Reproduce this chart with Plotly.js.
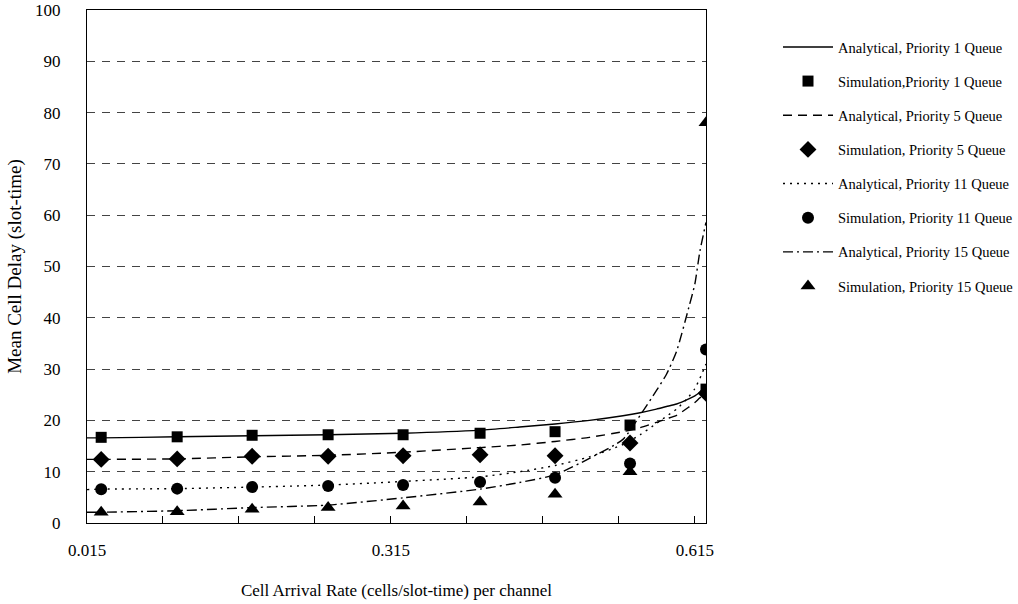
<!DOCTYPE html>
<html><head><meta charset="utf-8">
<script src="https://cdn.plot.ly/plotly-3.0.1.min.js"></script>
<style>html,body{margin:0;padding:0;background:#fff}#chart{width:1018px;height:604px}</style>
</head><body><div id="chart"></div><script>
// Analytical curves
const xAnalytical = [0.015, 0.029, 0.104, 0.178, 0.253, 0.327, 0.403, 0.442, 0.477, 0.511, 0.544, 0.561, 0.577, 0.587, 0.597, 0.609, 0.615, 0.620, 0.626];
const analyticalP1  = [16.6, 16.6, 16.8, 17.0, 17.2, 17.5, 18.1, 18.7, 19.3, 20.0, 20.9, 21.5, 22.2, 22.7, 23.2, 24.2, 24.8, 25.5, 26.4];
const analyticalP5  = [12.4, 12.4, 12.5, 12.9, 13.2, 13.8, 14.7, 15.2, 15.9, 16.7, 17.8, 18.6, 19.6, 20.3, 21.0, 22.6, 23.5, 24.4, 25.3];
const analyticalP11 = [6.5, 6.6, 6.7, 7.0, 7.4, 8.1, 9.0, 10.0, 11.2, 12.9, 15.3, 17.2, 19.4, 20.8, 22.2, 24.6, 26.2, 28.2, 31.0];
const analyticalP15 = [2.1, 2.1, 2.4, 3.0, 3.5, 4.9, 6.6, 7.9, 9.4, 12.6, 16.3, 21.0, 25.8, 29.0, 33.5, 42.0, 46.6, 53.0, 58.6];

// Simulation points
const xSimulation = [0.029, 0.104, 0.178, 0.253, 0.327, 0.403, 0.477, 0.551, 0.626];
const simulationP1  = [16.7, 16.8, 17.1, 17.2, 17.2, 17.5, 17.8, 19.1, 26.1];
const simulationP5  = [12.4, 12.5, 13.0, 13.0, 13.1, 13.3, 13.1, 15.6, 25.3];
const simulationP11 = [6.6, 6.7, 7.0, 7.2, 7.4, 8.0, 8.8, 11.6, 33.8];
const simulationP15 = [2.1, 2.2, 2.7, 3.0, 3.3, 4.1, 5.6, 10.0, 78.0];

// Axis ticks
const xTickVals = [0.015, 0.09, 0.165, 0.24, 0.315, 0.39, 0.465, 0.54, 0.615];
const xTickText = ['0.015', '', '', '', '0.315', '', '', '', '0.615'];
const yTickVals = [0, 10, 20, 30, 40, 50, 60, 70, 80, 90, 100];

const names = [
  'Analytical, Priority 1 Queue',
  'Simulation,Priority 1 Queue',
  'Analytical, Priority 5 Queue',
  'Simulation, Priority 5 Queue',
  'Analytical, Priority 11 Queue',
  'Simulation, Priority 11 Queue',
  'Analytical, Priority 15 Queue',
  'Simulation, Priority 15 Queue'
];

const FONT = 'Liberation Serif, Times New Roman, serif';
function lineTrace(y, name, dash, g) {
  return {x: xAnalytical, y: y, name: name, type: 'scatter', mode: 'lines', legendgroup: g,
    line: {color: '#000', width: 1.4, dash: dash, shape: 'spline', smoothing: 0.6}};
}
function markTrace(y, name, symbol, size, g) {
  return {x: xSimulation, y: y, name: name, type: 'scatter', mode: 'markers', legendgroup: g,
    marker: {color: '#000', symbol: symbol, size: size, line: {width: 0}}};
}
const data = [
  lineTrace(analyticalP1, names[0], 'solid', 'g1'),
  markTrace(simulationP1, names[1], 'square', 11, 'g2'),
  lineTrace(analyticalP5, names[2], '9px,6px', 'g3'),
  markTrace(simulationP5, names[3], 'diamond', 13, 'g4'),
  lineTrace(analyticalP11, names[4], '2px,5px', 'g5'),
  markTrace(simulationP11, names[5], 'circle', 12, 'g6'),
  lineTrace(analyticalP15, names[6], '10px,4px,2px,4px', 'g7'),
  markTrace(simulationP15, names[7], 'triangle-up', 13, 'g8')
];

const layout = {
  width: 1018, height: 604,
  margin: {l: 87, r: 312, t: 10, b: 81},
  paper_bgcolor: '#fff', plot_bgcolor: '#fff',
  font: {family: FONT, color: '#000'},
  showlegend: true,
  legend: {xref: 'container', yref: 'container', x: 778/1018, y: 1 - 31/604, xanchor: 'left', yanchor: 'top',
    font: {family: FONT, size: 14.5, color: '#000'}, itemwidth: 50, traceorder: 'grouped', tracegroupgap: 12.3,
    bgcolor: 'rgba(0,0,0,0)'},
  xaxis: {range: [0.015, 0.626], tickmode: 'array', tickvals: xTickVals, ticktext: xTickText,
    ticks: 'inside', ticklen: 7, tickcolor: '#000', tickwidth: 1,
    showline: true, linecolor: '#000', linewidth: 1, mirror: true, showgrid: false, zeroline: false,
    tickfont: {family: FONT, size: 17}, ticklabelstandoff: 12, automargin: false,
    title: {text: 'Cell Arrival Rate (cells/slot-time) per channel', font: {family: FONT, size: 17}, standoff: 24}},
  yaxis: {range: [0, 100], tickmode: 'array', tickvals: yTickVals, ticks: '',
    showline: true, linecolor: '#000', linewidth: 1, mirror: true, zeroline: false,
    showgrid: true, gridcolor: '#444', gridwidth: 1, griddash: '8px,7px',
    tickfont: {family: FONT, size: 17}, ticklabelstandoff: 22, automargin: false,
    title: {text: 'Mean Cell Delay (slot-time)', font: {family: FONT, size: 19}, standoff: 8}}
};

Plotly.newPlot('chart', data, layout, {staticPlot: true, displayModeBar: false});
</script></body></html>
